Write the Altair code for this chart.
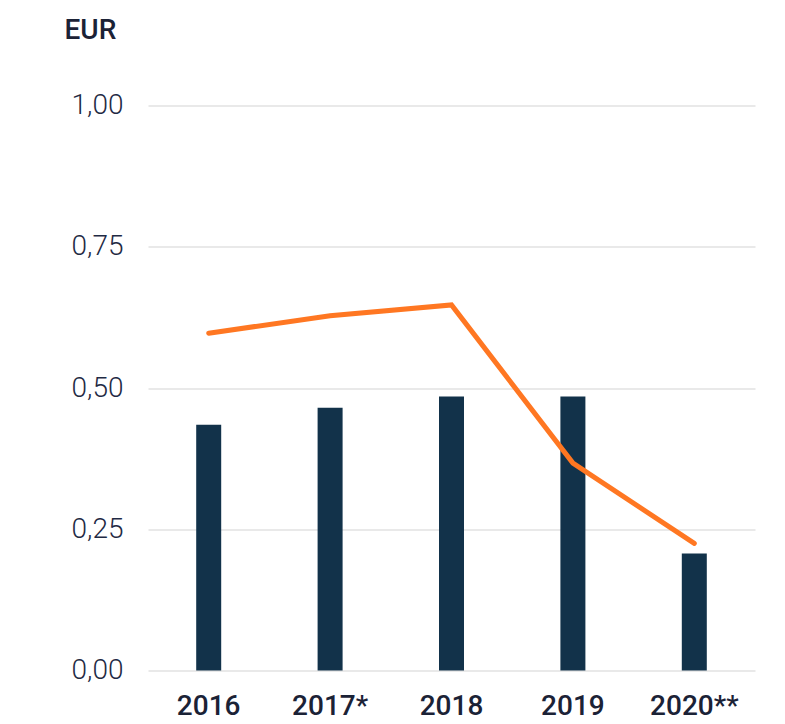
import altair as alt
import pandas as pd

years = ["2016", "2017*", "2018", "2019", "2020**"]
bar_values = [0.435, 0.465, 0.485, 0.485, 0.207]
line_values = [0.597, 0.628, 0.647, 0.367, 0.225]

df = pd.DataFrame({"year": years, "bar": bar_values, "line": line_values})

x_enc = alt.X(
    "year:N",
    sort=years,
    scale=alt.Scale(paddingInner=0, paddingOuter=0),
    axis=alt.Axis(
        title=None,
        labelAngle=0,
        labelFont="Roboto",
        labelFontWeight=500,
        labelFontSize=28,
        labelColor="#1b2236",
        labelPadding=44,
        labelBaseline="alphabetic",
        domain=False,
        ticks=False,
        grid=False,
    ),
)

y_scale = alt.Scale(domain=[0, 1], nice=False)

bars = alt.Chart(df).mark_bar(size=25, color="#12324a").encode(
    x=x_enc,
    y=alt.Y(
        "bar:Q",
        scale=y_scale,
        axis=alt.Axis(
            values=[0, 0.25, 0.5, 0.75, 1.0],
            labelExpr="replace(format(datum.value, '.2f'), '.', ',')",
            labelFont="Roboto",
            labelFontWeight=300,
            labelFontSize=28,
            labelColor="#1f2a44",
            labelPadding=25,
            domain=False,
            ticks=False,
            grid=True,
            gridColor="#d3d3d3",
            gridWidth=1.2,
            title="EUR",
            titleAngle=0,
            titleAlign="left",
            titleBaseline="alphabetic",
            titleX=-84,
            titleY=-67,
            titleFont="Roboto",
            titleFontWeight=500,
            titleFontSize=28,
            titleColor="#1b2236",
        ),
    ),
)

line = alt.Chart(df).mark_line(
    color="#ff7722", strokeWidth=5, strokeCap="round", strokeJoin="miter"
).encode(
    x=alt.X("year:N", sort=years),
    y=alt.Y("line:Q", scale=y_scale),
)

chart = (
    alt.layer(bars, line)
    .properties(
        width=607,
        height=565,
        autosize=alt.AutoSizeParams(type="none"),
        padding={"left": 140, "top": 97.5, "right": 22, "bottom": 54},
    )
    .configure_view(stroke=None)
)

chart.save("out.html", embed_options={"renderer": "svg", "actions": False})
